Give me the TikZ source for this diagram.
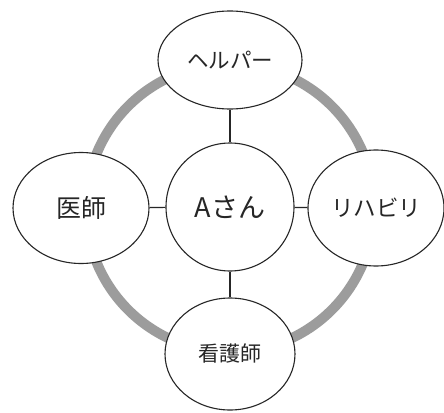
\documentclass[tikz,border=0pt]{standalone}
\usepackage{fontspec}
\newfontfamily\jp{Noto Sans CJK JP}
\usetikzlibrary{shapes.geometric}
\definecolor{ringgray}{HTML}{9C9C9C}
\definecolor{txt}{HTML}{262626}
\tikzset{
  member/.style={ellipse, draw=black!85, line width=1.1pt, fill=white, inner sep=0pt, text=txt},
  link/.style={draw=black!85, line width=1.1pt},
  ring/.style={draw=ringgray, line width=10pt}
}
\begin{document}
\begin{tikzpicture}[x=1pt,y=-1pt]
\useasboundingbox (0,0) rectangle (444,412);
\fill[white] (0,0) rectangle (444,412);
\draw[ring] (230,208) circle (144);
\node[member, minimum width=144pt, minimum height=98pt, font=\jp\fontsize{21.5}{21.5}\selectfont] (helper) at (230,60) {ヘルパー};
\node[member, minimum width=136pt, minimum height=111pt, font=\jp\fontsize{25}{25}\selectfont] (doctor) at (81,208) {医師};
\node[member, minimum width=136pt, minimum height=116pt, font=\jp\fontsize{22.5}{22.5}\selectfont] (rehab) at (376,208) {リハビリ};
\node[member, minimum width=130pt, minimum height=112pt, font=\jp\fontsize{21}{21}\selectfont] (nurse) at (230,354) {看護師};
\node[member, circle, minimum size=128pt, font=\jp\fontsize{27}{27}\selectfont] (a) at (230,207) {Aさん};
\draw[link] (helper) -- (a);
\draw[link] (nurse) -- (a);
\draw[link] (doctor) -- (a);
\draw[link] (rehab) -- (a);
\end{tikzpicture}
\end{document}
